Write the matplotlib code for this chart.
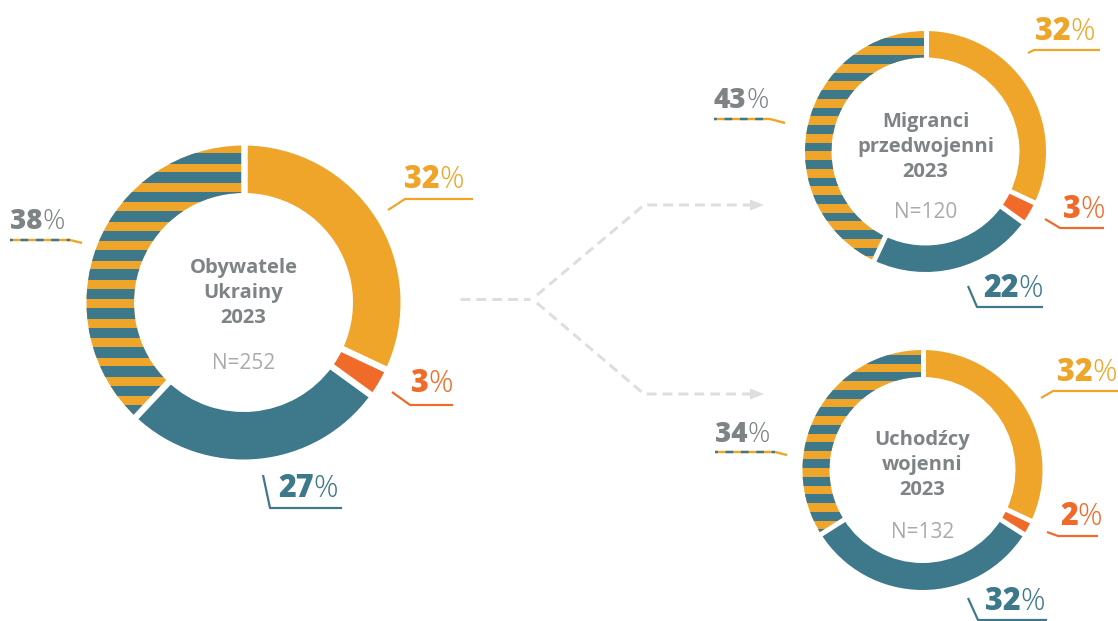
import matplotlib
matplotlib.use('Agg')
import matplotlib.pyplot as plt
import numpy as np
from matplotlib.patches import Rectangle, Polygon

plt.rcParams['font.family'] = ['Open Sans', 'DejaVu Sans']

W, H = 1118, 621

# data
groups = ['Obywatele\nUkrainy\n2023', 'Migranci\nprzedwojenni\n2023', 'Uchodźcy\nwojenni\n2023']
sample_sizes = [252, 120, 132]
orange_share = [32, 32, 32]
red_share = [3, 3, 2]
teal_share = [27, 22, 32]
striped_share = [38, 43, 34]

ORANGE = '#EFA529'
RED = '#F06A2A'
TEAL = '#3D788B'
GRAY = '#7E8386'
LIGHT = '#A8ABAD'
ARROW = '#DEDEDE'

# layout, in pixels measured from the top-left corner
donuts = [
    dict(cx=243.5, cy=302.5, r=157, w=47.5, gap=6.5, stripe0=191.7, period=19.4, band=10.7,
         title_y=273, n_y=369),
    dict(cx=925.5, cy=151.5, r=120.5, w=26.5, gap=5, stripe0=55, period=17.5, band=8.7,
         title_y=127, n_y=218),
    dict(cx=922.5, cy=470, r=120, w=27, gap=5, stripe0=355, period=17.4, band=9,
         title_y=445, n_y=538),
]

# (text x, text baseline, leader points) for orange, red, teal, striped
labels = [
    [(404, 188, [(388, 210), (405, 199), (473, 199)]),
     (411, 392, [(392, 392), (410, 405), (453, 405)]),
     (278, 497, [(263, 475), (270, 508), (342, 508)]),
     (10, 229, [(10, 240), (70, 240), (82, 243)])],
    [(1035, 40, [(1028, 53), (1034, 50), (1100, 50)]),
     (1063, 218, [(1045, 219), (1060, 228), (1104, 228)]),
     (983, 297, [(968, 286), (977, 307), (1043, 307)]),
     (714, 108, [(714, 119), (770, 119), (785, 123)])],
    [(1057, 381, [(1041, 398), (1053, 391), (1118, 391)]),
     (1060, 525, [(1047, 532), (1058, 536), (1098, 536)]),
     (985, 610, [(968, 598), (978, 620), (1047, 620)]),
     (715, 442, [(715, 452), (775, 452), (787, 455)])],
]


def Y(py):
    return H - py


def px(p):
    return p * 0.72


fig = plt.figure(figsize=(W / 100, H / 100), dpi=100)
ax = fig.add_axes([0, 0, 1, 1])

for i, d in enumerate(donuts):
    vals = [orange_share[i], red_share[i], teal_share[i], striped_share[i]]
    wedges, _ = ax.pie(vals, colors=[ORANGE, RED, TEAL, ORANGE], startangle=90,
                       counterclock=False, center=(d['cx'], Y(d['cy'])), radius=d['r'],
                       wedgeprops=dict(width=d['w'], linewidth=0))
    # horizontal stripes on the last segment
    top = d['cy'] - d['r']
    y0 = d['stripe0'] - np.ceil((d['stripe0'] - top) / d['period']) * d['period']
    for ys in np.arange(y0, d['cy'] + d['r'], d['period']):
        rect = Rectangle((d['cx'] - d['r'] - 2, Y(ys + d['band'])), 2 * d['r'] + 4, d['band'],
                         facecolor=TEAL, edgecolor='none', zorder=2)
        ax.add_patch(rect)
        rect.set_clip_path(wedges[3])
    # white separators
    cum = np.cumsum([0] + vals[:-1])
    for c in cum:
        a = np.deg2rad(90 - 360 * c / sum(vals))
        r1, r2 = d['r'] - d['w'] - 2, d['r'] + 2
        ax.plot([d['cx'] + r1 * np.cos(a), d['cx'] + r2 * np.cos(a)],
                [Y(d['cy']) + r1 * np.sin(a), Y(d['cy']) + r2 * np.sin(a)],
                color='white', lw=px(d['gap']), solid_capstyle='butt', zorder=3)
    # centre text
    for k, line in enumerate(groups[i].split('\n')):
        ax.text(d['cx'], Y(d['title_y'] + 25 * k), line, ha='center', va='baseline',
                fontsize=14.5, fontweight='bold', color=GRAY, zorder=4)
    ax.text(d['cx'], Y(d['n_y']), f'N={sample_sizes[i]}', ha='center', va='baseline',
            fontsize=15, color=LIGHT, zorder=4)

    # value labels
    colors = [ORANGE, RED, TEAL, GRAY]
    for j, (tx, tb, pts) in enumerate(labels[i]):
        fs = 20 if j == 3 else 22
        t = ax.text(tx, Y(tb), str(vals[j]), ha='left', va='baseline', fontsize=fs,
                    fontweight=800, color=colors[j], zorder=4)
        ax.annotate('%', xy=(1, 0), xycoords=t, xytext=(0, 0), textcoords='offset points',
                    ha='left', va='bottom', fontsize=fs, fontweight='light',
                    color=colors[j], zorder=4)
        xs = [p[0] for p in pts]
        ys = [Y(p[1]) for p in pts]
        if j == 3:
            ax.plot(xs, ys, color=ORANGE, lw=px(2.4), solid_capstyle='butt', zorder=4)
            ax.plot(xs[:2], ys[:2], color=TEAL, lw=px(2.4), linestyle=(2, (3.2, 3.2)),
                    dash_capstyle='butt', zorder=5)
        else:
            ax.plot(xs, ys, color=colors[j], lw=px(2.2), solid_capstyle='butt', zorder=4)

# dashed connector arrows
dash = (0, (3.3, 2.0))
ax.plot([460, 530], [Y(299), Y(299)], color=ARROW, lw=px(3), linestyle=dash)
for yb, ya in [(295, 205), (303, 394)]:
    ax.plot([537, 644, 750], [Y(yb), Y(ya), Y(ya)], color=ARROW, lw=px(3), linestyle=dash)
    ax.add_patch(Polygon([(750, Y(ya - 5.5)), (764, Y(ya)), (750, Y(ya + 5.5))],
                         closed=True, facecolor=ARROW, edgecolor='none'))

ax.set_xlim(0, W)
ax.set_ylim(0, H)
ax.set_aspect('auto')
ax.axis('off')

fig.savefig('out.png', dpi=100, facecolor='white')
